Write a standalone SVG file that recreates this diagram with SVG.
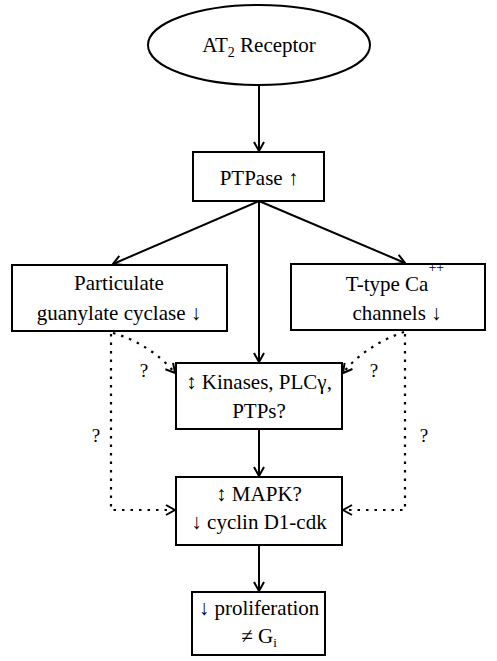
<svg xmlns="http://www.w3.org/2000/svg" width="497" height="661" viewBox="0 0 497 661">
<defs>
<style>
.box{fill:#fff;stroke:#000;stroke-width:2}
.t{font-family:"Liberation Serif","Times New Roman",serif;font-size:21px;fill:#000;text-anchor:middle}
.q{font-family:"Liberation Serif","Times New Roman",serif;font-size:19px;fill:#000;text-anchor:middle}
.ln{fill:none;stroke:#000;stroke-width:2}
.dot{fill:none;stroke:#000;stroke-width:2.2;stroke-dasharray:2.5 6}
</style>
<marker id="ah" viewBox="0 0 12 12" refX="11" refY="6" markerWidth="12" markerHeight="12" markerUnits="userSpaceOnUse" orient="auto">
<path d="M2,1 L11,6 L2,11" fill="none" stroke="#000" stroke-width="2"/>
</marker>
</defs>
<rect width="497" height="661" fill="#fff"/>
<g id="connectors">
<line class="ln" x1="259" y1="85" x2="259" y2="151" marker-end="url(#ah)"/>
<line class="ln" x1="259" y1="201" x2="113" y2="264" marker-end="url(#ah)"/>
<line class="ln" x1="259" y1="201" x2="405" y2="263" marker-end="url(#ah)"/>
<line class="ln" x1="259" y1="201" x2="259" y2="362" marker-end="url(#ah)"/>
<line class="ln" x1="259" y1="429" x2="259" y2="476" marker-end="url(#ah)"/>
<line class="ln" x1="259" y1="545" x2="259" y2="591" marker-end="url(#ah)"/>
<path class="dot" d="M113,333 C138,340 160,355 175,373" marker-end="url(#ah)"/>
<path class="dot" d="M404,332 C380,340 357,355 343,373" marker-end="url(#ah)"/>
<path class="dot" d="M111,334 L111,510 L175,510" marker-end="url(#ah)"/>
<path class="dot" d="M405,334 L405,510 L343,510" marker-end="url(#ah)"/>
<text class="q" x="144" y="377">?</text>
<text class="q" x="374" y="377">?</text>
<text class="q" x="96" y="442">?</text>
<text class="q" x="424" y="442">?</text>
</g>
<g id="at2">
<ellipse class="box" cx="259" cy="45" rx="111" ry="40"/>
<text class="t" x="259" y="52">AT<tspan font-size="14" dy="5">2</tspan><tspan dy="-5"> Receptor</tspan></text>
</g>
<g id="ptpase">
<rect class="box" x="193" y="152" width="131" height="49"/>
<text class="t" x="259" y="185">PTPase ↑</text>
</g>
<g id="particulate">
<rect class="box" x="12" y="265" width="215" height="66"/>
<text class="t" x="119" y="290">Particulate</text>
<text class="t" x="119" y="320">guanylate cyclase ↓</text>
</g>
<g id="ttype">
<rect class="box" x="291" y="264" width="194" height="66"/>
<text class="t" x="395" y="291">T-type Ca<tspan font-size="14" dy="-19">++</tspan></text>
<text class="t" x="397" y="320">channels ↓</text>
</g>
<g id="kinases">
<rect class="box" x="176" y="363" width="166" height="66"/>
<text class="t" x="259" y="389">↕ Kinases, PLCγ,</text>
<text class="t" x="259" y="418">PTPs?</text>
</g>
<g id="mapk">
<rect class="box" x="176" y="477" width="166" height="68"/>
<text class="t" x="259" y="501">↕ MAPK?</text>
<text class="t" x="259" y="529">↓ cyclin D1-cdk</text>
</g>
<g id="proliferation">
<rect class="box" x="192" y="592" width="133" height="63"/>
<text class="t" x="259" y="615">↓ proliferation</text>
<text class="t" x="259" y="643">≠ G<tspan font-size="13" dy="4">i</tspan></text>
</g>
</svg>
